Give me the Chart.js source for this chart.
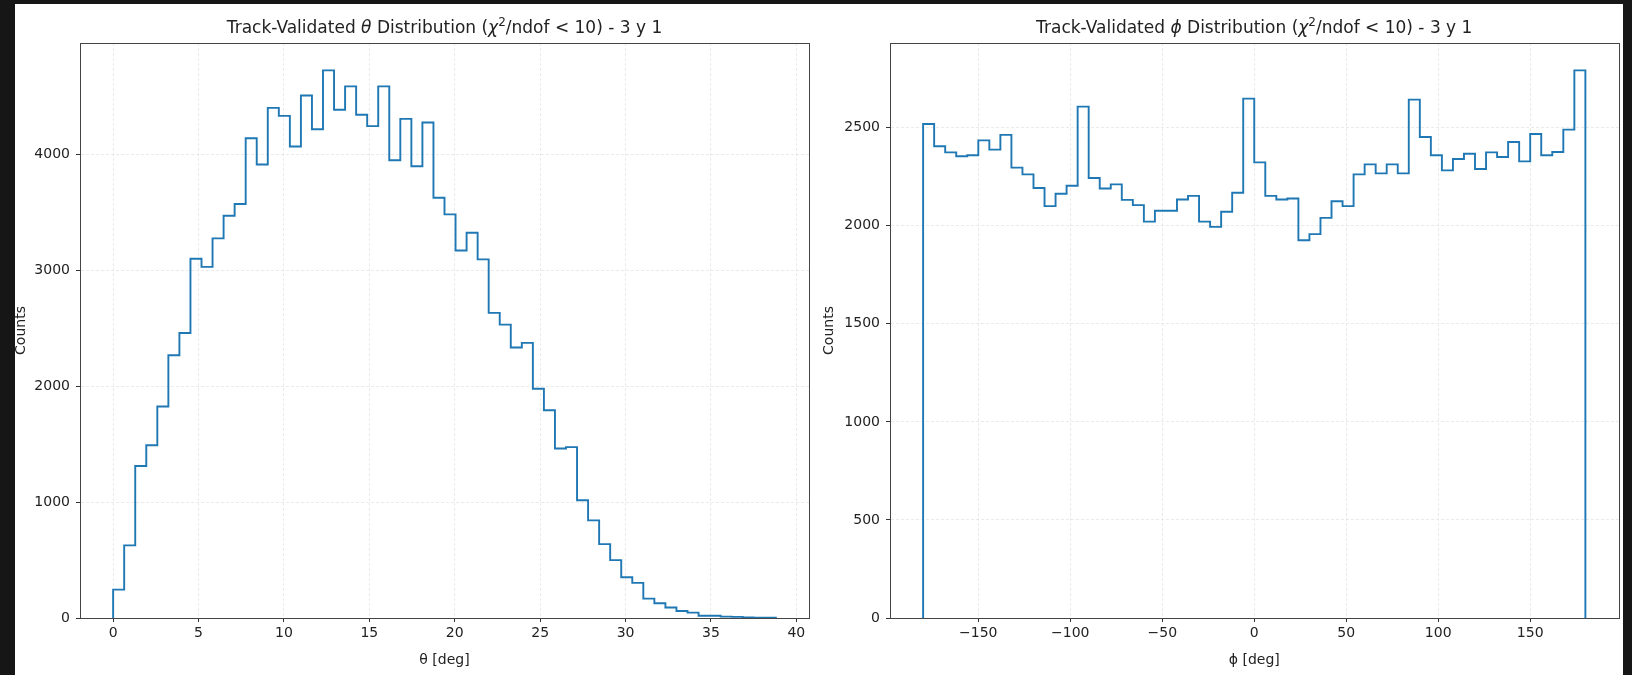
<!DOCTYPE html>
<html><head><meta charset="utf-8">
<script src="https://cdn.jsdelivr.net/npm/chart.js@4.4.0/dist/chart.umd.min.js"></script>
<style>
html,body{margin:0;padding:0;background:#161616;width:1632px;height:675px;overflow:hidden;}
#paper{position:absolute;left:15px;top:4px;width:1608px;height:671px;background:#fff;}
.wrap{position:absolute;top:0;height:675px;width:816px;}
canvas{display:block;}
</style></head><body>
<div id="paper"></div>
<div class="wrap" style="left:0"><canvas id="c1" width="816" height="675"></canvas></div>
<div class="wrap" style="left:816px"><canvas id="c2" width="816" height="675"></canvas></div>
<script>
// ---- data ----
const thetaRange = [0, 38.8];
const thetaCounts = [245, 626, 1311, 1490, 1824, 2265, 2458, 3098, 3028, 3273,
  3469, 3570, 4137, 3910, 4399, 4330, 4066, 4506, 4215, 4722,
  4382, 4584, 4339, 4241, 4584, 3947, 4304, 3895, 4273, 3624,
  3480, 3169, 3322, 3092, 2631, 2530, 2333, 2372, 1977, 1792,
  1461, 1473, 1015, 842, 637, 499, 352, 303, 167, 127,
  90, 61, 46, 20, 20, 12, 10, 4, 3, 2];
const thetaTicks = [0, 5, 10, 15, 20, 25, 30, 35, 40];
const thetaTickLabels = ['0', '5', '10', '15', '20', '25', '30', '35', '40'];
const thetaCountTicks = [0, 1000, 2000, 3000, 4000];

const phiRange = [-180, 180];
const phiCounts = [2519, 2405, 2374, 2354, 2359, 2435, 2388, 2463, 2296, 2262,
  2192, 2100, 2163, 2204, 2607, 2243, 2190, 2211, 2132, 2105,
  2021, 2076, 2076, 2134, 2152, 2021, 1994, 2071, 2168, 2648,
  2323, 2152, 2134, 2139, 1926, 1957, 2040, 2125, 2100, 2262,
  2313, 2267, 2313, 2267, 2643, 2452, 2359, 2282, 2340, 2367,
  2289, 2374, 2350, 2427, 2328, 2468, 2359, 2376, 2490, 2792];
const phiTicks = [-150, -100, -50, 0, 50, 100, 150];
const phiTickLabels = ['\u2212150', '\u2212100', '\u221250', '0', '50', '100', '150'];
const phiCountTicks = [0, 500, 1000, 1500, 2000, 2500];

const FONT = '"DejaVu Sans", "Liberation Sans", sans-serif';
const TEXT = '#222';

// histogram outline points (bin edges) for a step line
function stepPoints(counts, lo, hi) {
  const n = counts.length, w = (hi - lo) / n;
  const pts = [{x: lo, y: 0}];
  counts.forEach((c, i) => pts.push({x: lo + i * w, y: c}));
  pts.push({x: hi, y: counts[n - 1]});
  pts.push({x: hi, y: 0});
  return pts;
}

const titlePlugin = {
  id: 'mplTitle',
  afterDraw(chart, args, opts) {
    const ctx = chart.ctx, segs = opts.segments || [];
    ctx.save();
    const fonts = segs.map(s => `${s.italic ? 'italic ' : ''}${s.size || 17}px ${FONT}`);
    const widths = segs.map((s, i) => { ctx.font = fonts[i]; return ctx.measureText(s.text).width; });
    const total = widths.reduce((a, b) => a + b, 0);
    let x = (chart.chartArea.left + chart.chartArea.right) / 2 - total / 2;
    ctx.textBaseline = 'alphabetic';
    ctx.textAlign = 'left';
    ctx.fillStyle = TEXT;
    segs.forEach((s, i) => { ctx.font = fonts[i]; ctx.fillText(s.text, x, opts.baseline + (s.dy || 0)); x += widths[i]; });
    ctx.restore();
  }
};
const framePlugin = {
  id: 'frame',
  afterDraw(chart) {
    const a = chart.chartArea, ctx = chart.ctx;
    ctx.save();
    ctx.strokeStyle = '#444';
    ctx.lineWidth = 1;
    ctx.strokeRect(Math.round(a.left) + 0.5, Math.round(a.top) + 0.5,
      Math.round(a.right) - Math.round(a.left), Math.round(a.bottom) - Math.round(a.top));
    ctx.restore();
  }
};

function makeChart(id, cfg) {
  const yMax = Math.max(...cfg.counts) * 1.05;
  return new Chart(document.getElementById(id), {
    type: 'line',
    data: {
      datasets: [{
        data: stepPoints(cfg.counts, cfg.range[0], cfg.range[1]),
        stepped: true,
        borderColor: '#1f77b4',
        borderWidth: 1.9,
        pointRadius: 0,
        fill: false,
        clip: false
      }]
    },
    options: {
      responsive: false,
      animation: false,
      devicePixelRatio: 1,
      layout: {padding: {top: 43, right: cfg.padRight, bottom: 0, left: 0}},
      plugins: {
        legend: {display: false},
        tooltip: {enabled: false},
        mplTitle: {segments: cfg.title, baseline: 33}
      },
      scales: {
        x: {
          type: 'linear',
          min: cfg.xMin, max: cfg.xMax,
          afterBuildTicks: s => { s.ticks = cfg.xTicks.map(v => ({value: v})); },
          afterFit: s => { s.height = 57; },
          ticks: {
            autoSkip: false, maxRotation: 0, padding: 3, color: TEXT,
            font: {family: FONT, size: 14},
            callback: v => cfg.xLabels[cfg.xTicks.indexOf(v)]
          },
          grid: {color: '#e4e4e4', lineWidth: 0.8, tickColor: '#333', tickLength: 4, tickWidth: 1},
          border: {display: true, color: '#444', width: 1, dash: [3, 2]},
          title: {display: true, text: cfg.xTitle, color: TEXT, font: {family: FONT, size: 14, lineHeight: 1}, padding: {top: 0, bottom: 8}}
        },
        y: {
          type: 'linear',
          min: 0, max: yMax,
          afterBuildTicks: s => { s.ticks = cfg.yTicks.map(v => ({value: v})); },
          afterFit: s => { s.width = cfg.yWidth; },
          ticks: {
            autoSkip: false, padding: 6, color: TEXT,
            font: {family: FONT, size: 14},
            callback: v => String(v)
          },
          grid: {color: '#e4e4e4', lineWidth: 0.8, tickColor: '#333', tickLength: 4, tickWidth: 1},
          border: {display: true, color: '#444', width: 1, dash: [3, 2]},
          title: {display: true, text: 'Counts', color: TEXT, font: {family: FONT, size: 14, lineHeight: 1}, padding: {top: cfg.yTitlePad, bottom: 0}}
        }
      }
    },
    plugins: [titlePlugin, framePlugin]
  });
}

makeChart('c1', {
  counts: thetaCounts, range: thetaRange,
  xMin: -1.94, xMax: 40.74,
  xTicks: thetaTicks, xLabels: thetaTickLabels, yTicks: thetaCountTicks,
  xTitle: '\u03b8 [deg]', yWidth: 80, padRight: 7, yTitlePad: 14,
  title: [
    {text: 'Track-Validated '}, {text: '\u03b8', italic: true},
    {text: ' Distribution ('}, {text: '\u03c7', italic: true}, {text: '2', size: 12, dy: -7},
    {text: '/ndof < 10) - 3 y 1'}
  ]
});
makeChart('c2', {
  counts: phiCounts, range: phiRange,
  xMin: -198, xMax: 198,
  xTicks: phiTicks, xLabels: phiTickLabels, yTicks: phiCountTicks,
  xTitle: '\u03d5 [deg]', yWidth: 74, padRight: 13.5, yTitlePad: 6.5,
  title: [
    {text: 'Track-Validated '}, {text: '\u03d5', italic: true},
    {text: ' Distribution ('}, {text: '\u03c7', italic: true}, {text: '2', size: 12, dy: -7},
    {text: '/ndof < 10) - 3 y 1'}
  ]
});
</script>
</body></html>
